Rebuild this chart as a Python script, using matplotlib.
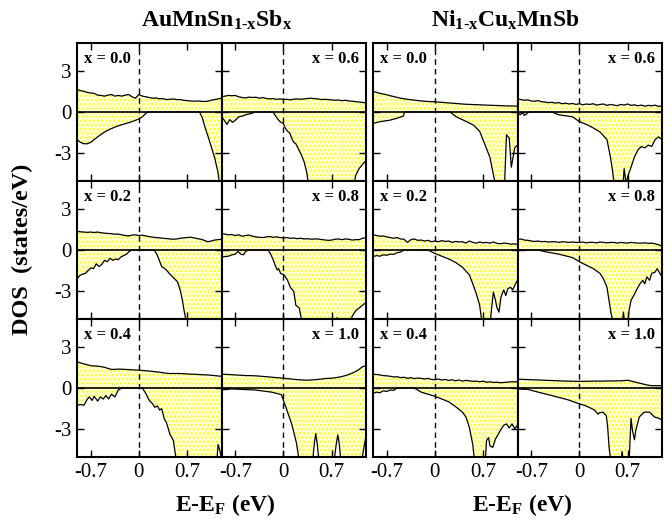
import numpy as np
import matplotlib
matplotlib.use("Agg")
import matplotlib.pyplot as plt

plt.rcParams['font.family'] = ['Liberation Serif', 'DejaVu Serif']
plt.rcParams['mathtext.fontset'] = 'custom'
plt.rcParams['mathtext.rm'] = 'Liberation Serif:bold'
plt.rcParams['mathtext.bf'] = 'Liberation Serif:bold'
plt.rcParams['mathtext.it'] = 'Liberation Serif:bold'
plt.rcParams['hatch.linewidth'] = 1.0

# ----------------------------
# Data: spin-up curves on a shared energy grid (eV)
# ----------------------------
e_up = [-0.9, -0.85, -0.8, -0.75, -0.7, -0.65, -0.6, -0.55, -0.5, -0.45, -0.4,
        -0.35, -0.3, -0.25, -0.2, -0.15, -0.1, -0.05, 0.0, 0.05, 0.1, 0.15,
        0.2, 0.25, 0.3, 0.35, 0.4, 0.45, 0.5, 0.55, 0.6, 0.65, 0.7, 0.75,
        0.8, 0.85, 0.9, 0.95, 1.0, 1.05, 1.1, 1.15, 1.2]

# AuMnSn(1-x)Sb(x)
au_00_up = [1.62, 1.55, 1.5, 1.42, 1.38, 1.35, 1.22, 1.2, 1.15, 1.22, 1.27, 1.15, 1.2, 1.15,
            1.22, 1.27, 1.1, 1.0, 1.27, 1.15, 1.1, 1.05, 1.0, 1.02, 0.95, 0.97, 0.9, 0.92,
            0.95, 0.9, 0.9, 0.85, 0.82, 0.8, 0.78, 0.8, 0.78, 0.76, 0.78, 0.85, 0.9, 0.95, 1.0]
au_02_up = [1.35, 1.32, 1.3, 1.28, 1.3, 1.27, 1.3, 1.25, 1.22, 1.2, 1.18, 1.15, 1.15, 1.1,
            1.05, 1.02, 1.08, 1.1, 1.05, 1.07, 1.02, 0.97, 0.93, 0.9, 0.88, 0.85, 0.83, 0.8,
            0.78, 0.8, 0.85, 0.88, 0.9, 0.93, 0.88, 0.82, 0.78, 0.7, 0.6, 0.65, 0.72, 0.75, 0.78]
au_04_up = [1.9, 1.82, 1.75, 1.68, 1.62, 1.6, 1.58, 1.55, 1.5, 1.42, 1.35, 1.35, 1.37, 1.36,
            1.35, 1.33, 1.32, 1.3, 1.3, 1.27, 1.25, 1.23, 1.2, 1.17, 1.15, 1.1, 1.07, 1.05,
            1.05, 1.05, 1.05, 1.04, 1.02, 1.0, 1.0, 0.98, 0.97, 0.95, 0.95, 0.92, 0.9, 0.87, 0.85]
au_06_up = [1.1, 1.15, 1.2, 1.18, 1.2, 1.1, 1.05, 1.02, 1.08, 1.05, 1.07, 1.0, 1.05, 0.98,
            0.95, 0.97, 0.92, 0.95, 0.9, 0.92, 0.88, 0.93, 0.95, 0.92, 0.95, 0.98, 1.0, 0.97,
            0.95, 0.9, 0.92, 0.9, 0.88, 0.85, 0.87, 0.82, 0.85, 0.8, 0.78, 0.75, 0.72, 0.7, 0.65]
au_08_up = [1.2, 1.15, 1.1, 1.12, 1.05, 1.1, 1.0, 1.05, 1.08, 1.0, 0.95, 0.92, 0.9, 0.95,
            0.98, 0.92, 0.95, 0.9, 0.88, 0.9, 0.85, 0.87, 0.82, 0.85, 0.8, 0.82, 0.78, 0.8,
            0.8, 0.76, 0.73, 0.7, 0.72, 0.78, 0.8, 0.75, 0.8, 0.78, 0.72, 0.75, 0.75, 0.85, 0.9]
au_10_up = [1.0, 0.99, 0.98, 0.96, 0.95, 0.93, 0.92, 0.9, 0.9, 0.89, 0.88, 0.86, 0.84, 0.82,
            0.8, 0.77, 0.75, 0.73, 0.71, 0.68, 0.66, 0.63, 0.61, 0.59, 0.57, 0.57, 0.58, 0.6,
            0.62, 0.65, 0.68, 0.7, 0.71, 0.74, 0.78, 0.83, 0.9, 0.98, 1.08, 1.2, 1.35, 1.55, 1.6]

# Ni(1-x)Cu(x)MnSb
ni_00_up = [1.5, 1.42, 1.35, 1.3, 1.25, 1.18, 1.12, 1.06, 1.0, 0.96, 0.92, 0.89, 0.86, 0.83,
            0.8, 0.78, 0.76, 0.75, 0.74, 0.72, 0.7, 0.68, 0.66, 0.64, 0.62, 0.6, 0.58, 0.56,
            0.55, 0.54, 0.53, 0.52, 0.51, 0.5, 0.49, 0.48, 0.47, 0.46, 0.45, 0.44, 0.44, 0.43, 0.43]
ni_02_up = [1.1, 1.05, 1.0, 1.02, 0.95, 0.9, 0.85, 0.9, 0.8, 0.78, 0.55, 0.75, 0.8, 0.7,
            0.72, 0.65, 0.7, 0.6, 0.65, 0.6, 0.68, 0.62, 0.65, 0.55, 0.62, 0.58, 0.6, 0.5,
            0.65, 0.55, 0.5, 0.58, 0.52, 0.55, 0.5, 0.58, 0.48, 0.45, 0.5, 0.48, 0.42, 0.45, 0.4]
ni_04_up = [1.0, 0.98, 0.95, 0.9, 0.88, 0.85, 0.8, 0.82, 0.75, 0.78, 0.7, 0.75, 0.68, 0.72,
            0.7, 0.65, 0.7, 0.62, 0.6, 0.65, 0.58, 0.62, 0.55, 0.6, 0.52, 0.58, 0.5, 0.55,
            0.52, 0.48, 0.5, 0.45, 0.5, 0.42, 0.45, 0.4, 0.42, 0.38, 0.4, 0.42, 0.45, 0.45, 0.45]
ni_06_up = [0.95, 0.9, 0.85, 0.88, 0.8, 0.78, 0.82, 0.75, 0.72, 0.68, 0.7, 0.65, 0.68, 0.6,
            0.64, 0.58, 0.62, 0.55, 0.6, 0.52, 0.58, 0.55, 0.6, 0.5, 0.55, 0.58, 0.48, 0.55,
            0.5, 0.46, 0.55, 0.5, 0.58, 0.48, 0.52, 0.45, 0.5, 0.42, 0.48, 0.45, 0.5, 0.4, 0.45]
ni_08_up = [0.75, 0.8, 0.72, 0.7, 0.65, 0.62, 0.65, 0.6, 0.62, 0.58, 0.6, 0.6, 0.55, 0.6,
            0.58, 0.55, 0.58, 0.55, 0.55, 0.58, 0.52, 0.56, 0.55, 0.52, 0.58, 0.55, 0.52, 0.55,
            0.55, 0.5, 0.55, 0.52, 0.5, 0.55, 0.52, 0.5, 0.5, 0.52, 0.48, 0.5, 0.45, 0.38, 0.28]
ni_10_up = [0.64, 0.63, 0.62, 0.61, 0.6, 0.59, 0.58, 0.57, 0.56, 0.55, 0.54, 0.53, 0.52, 0.51,
            0.5, 0.5, 0.49, 0.49, 0.48, 0.48, 0.49, 0.49, 0.5, 0.5, 0.5, 0.5, 0.51, 0.51,
            0.51, 0.52, 0.52, 0.54, 0.56, 0.5, 0.44, 0.38, 0.32, 0.26, 0.2, 0.17, 0.17, 0.17, 0.17]

# ----------------------------
# Data: spin-down curves (energy, DOS) per panel
# ----------------------------
au_00_dn_e = [-0.9, -0.85, -0.8, -0.75, -0.7, -0.65, -0.6, -0.5, -0.4, -0.3, -0.2, -0.1, 0.0,
              0.05, 0.1, 0.13, 0.88, 0.92, 0.96, 1.0, 1.05, 1.1, 1.15, 1.18, 1.2]
au_00_dn = [-2.0, -2.2, -2.3, -2.3, -2.2, -2.0, -1.8, -1.45, -1.2, -1.0, -0.85, -0.7, -0.5,
            -0.35, -0.1, 0.0, 0.0, -0.4, -1.1, -1.7, -2.5, -3.3, -4.4, -5.5, -6.0]
au_02_dn_e = [-0.9, -0.86, -0.82, -0.78, -0.74, -0.7, -0.66, -0.62, -0.58, -0.54, -0.5, -0.46,
              -0.42, -0.38, -0.34, -0.3, -0.26, -0.22, -0.18, -0.14, -0.1, 0.22, 0.26, 0.3,
              0.33, 0.36, 0.4, 0.44, 0.48, 0.52, 0.56, 0.6, 0.63, 0.66, 0.7, 1.2]
au_02_dn = [-2.1, -1.85, -1.75, -1.7, -1.5, -1.3, -1.35, -1.0, -1.2, -1.05, -0.75, -0.85,
            -0.6, -0.75, -0.65, -0.7, -0.5, -0.4, -0.3, -0.1, 0.0, 0.0, -0.3, -0.8,
            -1.2, -1.3, -1.45, -1.7, -1.9, -2.1, -2.3, -2.9, -3.6, -4.5, -5.5, -5.5]
au_04_dn_e = [-0.9, -0.85, -0.8, -0.75, -0.72, -0.68, -0.65, -0.6, -0.56, -0.52, -0.48, -0.44,
              -0.4, -0.35, -0.3, -0.25, 0.05, 0.1, 0.15, 0.2, 0.23, 0.27, 0.3, 0.33, 0.37,
              0.4, 0.45, 0.5, 0.55, 1.13, 1.15, 1.18, 1.2]
au_04_dn = [-1.25, -1.2, -1.25, -0.8, -0.65, -0.9, -0.6, -0.95, -0.65, -0.8, -0.55, -0.8,
            -0.45, -0.65, -0.15, 0.0, 0.0, -0.4, -0.9, -1.15, -1.4, -1.3, -1.6, -1.5, -2.25,
            -2.5, -3.35, -3.8, -5.5, -5.5, -4.1, -4.6, -5.2]
au_06_dn_e = [-0.9, -0.86, -0.82, -0.78, -0.74, -0.7, -0.65, -0.6, -0.55, -0.5, -0.45, -0.42,
              -0.15, -0.1, -0.05, 0.0, 0.03, 0.06, 0.09, 0.12, 0.15, 0.18, 0.22, 0.26, 0.3,
              0.34, 0.37, 1.02, 1.05, 1.1, 1.15, 1.2]
au_06_dn = [-0.3, -0.6, -0.9, -0.55, -0.75, -0.6, -0.35, -0.3, -0.2, -0.15, -0.08, 0.0,
            0.0, -0.4, -0.7, -0.85, -1.2, -1.4, -1.5, -1.9, -2.2, -2.3, -2.7, -3.1, -3.6,
            -4.4, -5.5, -5.5, -4.6, -4.1, -3.8, -3.5]
au_08_dn_e = [-0.9, -0.8, -0.75, -0.7, -0.66, -0.62, -0.58, -0.55, -0.5, -0.23, -0.19, -0.15,
              -0.12, -0.09, -0.07, -0.04, 0.01, 0.06, 0.1, 0.15, 0.18, 0.23, 0.28, 0.76,
              0.78, 0.8, 0.95, 1.0, 1.05, 1.1, 1.15, 1.2]
au_08_dn = [-0.5, -0.45, -0.35, -0.3, -0.1, -0.3, -0.35, -0.1, 0.0, 0.0, -0.25, -0.7,
            -1.1, -1.45, -1.35, -1.7, -1.8, -2.2, -2.7, -3.0, -4.0, -4.2, -5.5, -5.5,
            -4.9, -5.5, -5.5, -4.8, -4.4, -4.2, -4.0, -3.8]
au_10_dn_e = [-0.9, -0.75, -0.42, -0.17, -0.03, 0.0, 0.05, 0.12, 0.19, 0.22, 0.24, 0.42, 0.45,
              0.47, 0.49, 0.52, 0.73, 0.77, 0.79, 0.81, 0.84, 1.13, 1.17, 1.2]
au_10_dn = [-0.14, -0.07, -0.14, -0.3, -0.48, -0.9, -1.6, -2.6, -4.0, -5.0, -5.5, -5.5, -4.0,
            -3.3, -4.0, -5.5, -5.5, -4.0, -3.4, -4.0, -5.5, -5.5, -4.3, -3.5]

ni_00_dn_e = [-0.9, -0.8, -0.66, -0.55, -0.46, -0.44, 0.22, 0.31, 0.46, 0.56, 0.65, 0.73, 0.8,
              0.86, 0.9, 1.01, 1.04, 1.08, 1.11, 1.16, 1.2]
ni_00_dn = [-0.83, -0.7, -0.6, -0.45, -0.3, 0.0, 0.0, -0.35, -0.7, -0.95, -1.4, -2.4, -3.3,
            -4.8, -5.5, -5.5, -1.65, -1.9, -4.0, -2.6, -2.4]
ni_02_dn_e = [-0.9, -0.85, -0.8, -0.75, -0.7, -0.65, -0.6, -0.55, -0.5, -0.45, -0.1, 0.0, 0.1,
              0.2, 0.3, 0.4, 0.5, 0.55, 0.6, 0.65, 0.69, 0.8, 0.82, 0.85, 0.88, 0.9, 0.93,
              0.96, 1.0, 1.03, 1.06, 1.1, 1.13, 1.17, 1.2]
ni_02_dn = [-0.5, -0.4, -0.45, -0.35, -0.38, -0.3, -0.32, -0.2, -0.15, 0.0, 0.0, -0.25, -0.45,
            -0.65, -0.9, -1.25, -1.8, -2.45, -3.15, -4.0, -5.5, -5.5, -4.4, -3.05, -3.65, -4.15,
            -4.5, -3.4, -2.9, -3.3, -2.8, -2.7, -2.9, -2.45, -2.2]
ni_04_dn_e = [-0.9, -0.85, -0.8, -0.75, -0.7, -0.65, -0.6, -0.55, -0.3, -0.2, -0.1, 0.0, 0.1,
              0.2, 0.3, 0.4, 0.45, 0.5, 0.55, 0.58, 0.73, 0.75, 0.78, 0.8, 0.84, 0.88, 0.92,
              0.96, 1.0, 1.04, 1.08, 1.12, 1.16, 1.2]
ni_04_dn = [-0.4, -0.3, -0.35, -0.2, -0.25, -0.15, -0.17, 0.0, 0.0, -0.3, -0.45, -0.6, -0.8,
            -1.0, -1.35, -1.75, -2.1, -2.85, -4.1, -5.5, -5.5, -3.8, -3.6, -4.2, -4.3, -3.7,
            -3.35, -3.0, -2.7, -2.6, -2.9, -2.6, -2.95, -2.7]
ni_06_dn_e = [-0.9, -0.86, -0.83, -0.8, -0.77, -0.74, -0.4, -0.3, -0.1, 0.0, 0.1, 0.2, 0.3,
              0.4, 0.45, 0.48, 0.51, 0.63, 0.65, 0.68, 0.7, 0.75, 0.8, 0.85, 0.9, 0.95, 1.0,
              1.05, 1.1, 1.15, 1.2]
ni_06_dn = [-0.1, -0.2, -0.05, -0.25, -0.15, 0.0, 0.0, -0.2, -0.35, -0.7, -0.9, -1.15, -1.45,
            -2.0, -3.25, -4.2, -5.5, -5.5, -4.1, -5.3, -4.7, -4.0, -3.25, -2.75, -2.5, -2.6,
            -2.4, -2.5, -2.0, -1.8, -2.0]
ni_08_dn_e = [-0.9, -0.6, -0.5, -0.3, -0.1, 0.0, 0.1, 0.2, 0.3, 0.35, 0.4, 0.43, 0.46, 0.5,
              0.62, 0.64, 0.66, 0.7, 0.72, 0.75, 0.8, 0.85, 0.88, 0.92, 0.95, 0.98, 1.02,
              1.05, 1.1, 1.13, 1.17, 1.2]
ni_08_dn = [0.0, 0.0, -0.12, -0.3, -0.55, -0.85, -1.1, -1.35, -1.7, -2.1, -2.7, -3.65, -4.6,
            -5.5, -5.5, -4.5, -5.5, -5.5, -4.4, -3.65, -3.2, -2.7, -2.45, -2.2, -2.45, -1.95,
            -2.2, -1.7, -1.6, -1.35, -1.7, -1.95]
ni_10_dn_e = [-0.9, -0.75, -0.6, -0.4, -0.17, 0.0, 0.07, 0.14, 0.22, 0.27, 0.29, 0.34, 0.39,
              0.41, 0.43, 0.46, 0.6, 0.62, 0.64, 0.66, 0.72, 0.75, 0.77, 0.8, 0.82, 0.87,
              0.94, 1.02, 1.09, 1.16, 1.2]
ni_10_dn = [-0.07, -0.1, -0.3, -0.55, -0.85, -1.15, -1.25, -1.4, -1.6, -1.9, -1.8, -1.75,
            -2.0, -2.8, -4.25, -5.5, -5.5, -4.6, -5.5, -5.5, -5.5, -2.2, -3.05, -3.75, -3.05,
            -2.1, -1.75, -1.75, -2.1, -2.2, -2.35]

# (group, row, col, label, up, down energies, down)
panels = [
    (0, 0, 0, 'x = 0.0', au_00_up, au_00_dn_e, au_00_dn),
    (0, 1, 0, 'x = 0.2', au_02_up, au_02_dn_e, au_02_dn),
    (0, 2, 0, 'x = 0.4', au_04_up, au_04_dn_e, au_04_dn),
    (0, 0, 1, 'x = 0.6', au_06_up, au_06_dn_e, au_06_dn),
    (0, 1, 1, 'x = 0.8', au_08_up, au_08_dn_e, au_08_dn),
    (0, 2, 1, 'x = 1.0', au_10_up, au_10_dn_e, au_10_dn),
    (1, 0, 0, 'x = 0.0', ni_00_up, ni_00_dn_e, ni_00_dn),
    (1, 1, 0, 'x = 0.2', ni_02_up, ni_02_dn_e, ni_02_dn),
    (1, 2, 0, 'x = 0.4', ni_04_up, ni_04_dn_e, ni_04_dn),
    (1, 0, 1, 'x = 0.6', ni_06_up, ni_06_dn_e, ni_06_dn),
    (1, 1, 1, 'x = 0.8', ni_08_up, ni_08_dn_e, ni_08_dn),
    (1, 2, 1, 'x = 1.0', ni_10_up, ni_10_dn_e, ni_10_dn),
]

W, H = 672, 523
fig = plt.figure(figsize=(W / 100, H / 100), dpi=100)

group_x0 = [77, 373]
panel_w = 144.5
row_top = 43
panel_h = 138

fill_kw = dict(facecolor='#ffffd2', edgecolor='#ffff20', hatch='....', linewidth=0)

for g, r, c, label, up, dn_e, dn in panels:
    left = (group_x0[g] + c * panel_w) / W
    bottom = 1 - (row_top + (r + 1) * panel_h) / H
    ax = fig.add_axes([left, bottom, panel_w / W, panel_h / H])

    ax.fill_between(e_up, 0, up, **fill_kw)
    ax.fill_between(dn_e, dn, 0, **fill_kw)
    ax.plot(e_up, up, color='black', lw=0.9)
    ax.plot(dn_e, dn, color='black', lw=0.9)
    ax.axhline(0, color='black', lw=1.2)
    ax.axvline(0, color='black', lw=1.0, ls=(0, (4, 3)))

    ax.set_xlim(-0.9, 1.2)
    ax.set_ylim(-5, 5)
    ax.set_xticks([-0.7, 0, 0.7])
    ax.set_yticks([-3, 0, 3])
    ax.set_xticklabels(['-0.7', '0', '0.7'])
    ax.set_yticklabels(['-3', '0', '3'])
    ax.tick_params(direction='in', top=True, right=True, length=5, width=1,
                   labelsize=15, pad=4,
                   labelleft=(g == 0 and c == 0), labelbottom=(r == 2))
    for s in ax.spines.values():
        s.set_linewidth(1.5)

    if c == 0:
        ax.text(0.05, 0.885, label, transform=ax.transAxes, ha='left', va='center',
                fontsize=12, fontweight='bold')
    else:
        ax.text(0.95, 0.885, label, transform=ax.transAxes, ha='right', va='center',
                fontsize=12, fontweight='bold')

fig.text(217 / W, 1 - 20 / H, r'AuMnSn$_{1\text{-}x}$Sb$_x$', ha='center', va='center',
         fontsize=17, fontweight='bold')
fig.text(505 / W, 1 - 20 / H, r'Ni$_{1\text{-}x}$Cu$_x$MnSb', ha='center', va='center',
         fontsize=17, fontweight='bold')
fig.text(22 / W, 1 - 249 / H, 'DOS  (states/eV)', rotation=90, ha='center', va='center',
         fontsize=17.5, fontweight='bold')
fig.text(225 / W, 1 - 505 / H, r'E-E$_F$ (eV)', ha='center', va='center',
         fontsize=17, fontweight='bold')
fig.text(522 / W, 1 - 505 / H, r'E-E$_F$ (eV)', ha='center', va='center',
         fontsize=17, fontweight='bold')

fig.savefig('out.png', dpi=100)
